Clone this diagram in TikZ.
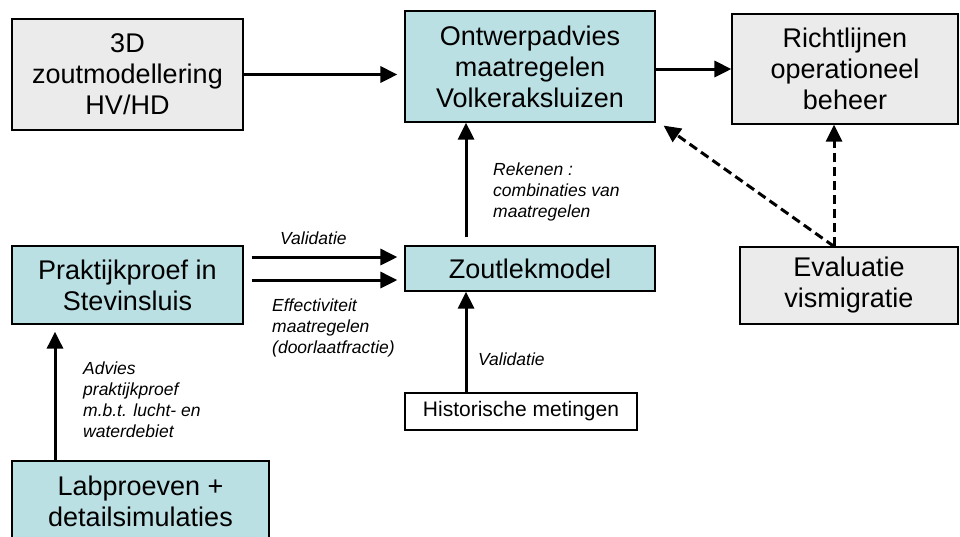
\documentclass[tikz,border=0pt]{standalone}
\usepackage{fontspec}
\setmainfont{Liberation Sans}
\usepackage{tikz}
\usetikzlibrary{positioning,calc,arrows.meta}

\definecolor{tealfill}{RGB}{186,224,227}
\definecolor{greyfill}{RGB}{235,235,235}

\begin{document}
\begin{tikzpicture}[x=1pt,y=-1pt,
			box/.style={rectangle, draw=black, line width=1.2pt, inner sep=0, align=center,
				font=\fontsize{27}{31}\selectfont},
			tealbox/.style={box, fill=tealfill},
			greybox/.style={box, fill=greyfill},
			plain/.style={inner sep=0, align=left, font=\fontsize{17.5}{21}\selectfont\itshape},
			arrow/.style={line width=3pt, -{Triangle[length=17pt,width=16pt]}},
			dasharrow/.style={arrow, dash pattern=on 9pt off 5pt}]

			\useasboundingbox (0,0) rectangle (960,536);

			\node[greybox, minimum width=231pt, minimum height=111pt] (zout) at (127.5,74.5) {3D\\zoutmodellering\\HV/HD};
			\node[tealbox, minimum width=250pt, minimum height=111pt] (ontw) at (530,66.5) {Ontwerpadvies\\maatregelen\\Volkeraksluizen};
			\node[greybox, minimum width=226pt, minimum height=110pt] (richt) at (845,69) {Richtlijnen\\operationeel\\beheer};
			\node[tealbox, minimum width=231pt, minimum height=78pt] (prak) at (127.5,285) {Praktijkproef in\\Stevinsluis};
			\node[tealbox, minimum width=250pt, minimum height=45pt] (lek) at (530,268.5) {Zoutlekmodel};
			\node[greybox, minimum width=218pt, minimum height=77pt] (eval) at (849,285.5) {Evaluatie\\vismigratie};
			\node[box, fill=white, minimum width=232pt, minimum height=37pt,
				font=\fontsize{21}{25}\selectfont] (hist) at (521,411.5) {Historische metingen};
			\node[tealbox, minimum width=257pt, minimum height=80pt] (lab) at (140.5,501) {Labproeven +\\detailsimulaties};

			% solid connectors
			\draw[arrow, shorten >=7pt] (zout.east) -- (zout.east -| ontw.west);
			\draw[arrow] (ontw.east |- richt.west) -- (richt.west);
			\draw[arrow, shorten <=8pt] (lek.north -| 466,0) -- (ontw.south -| 466,0);
			\draw[arrow] (hist.north -| 466,0) -- (lek.south -| 466,0);
			\draw[arrow, shorten <=8pt, shorten >=7pt] ([yshift=28pt]prak.east) -- ([yshift=28pt]prak.east -| lek.west);
			\draw[arrow, shorten <=8pt, shorten >=7pt] ([yshift=5pt]prak.east) -- ([yshift=5pt]prak.east -| lek.west);
			\draw[arrow, shorten >=7pt] (lab.north -| 55,0) -- (prak.south -| 55,0);

			% dashed connectors
			\coordinate (evtop) at ([xshift=-15pt]eval.north);
			\draw[dasharrow] (evtop) -- ([xshift=8pt,yshift=-3pt]ontw.south east);
			\draw[dasharrow] (evtop) -- (evtop |- richt.south);

			% labels
			\node[plain, anchor=west] (lval) at (280,238) {Validatie};
			\node[plain, anchor=west] (leff) at (272,328) {Effectiviteit\\maatregelen\\(doorlaatfractie)};
			\node[plain, anchor=west] (lrek) at (493,191.5) {Rekenen :\\combinaties van\\maatregelen};
			\node[plain, anchor=west] (lhis) at (478,359) {Validatie};
			\node[plain, anchor=west] (ladv) at (83,399.5) {Advies\\praktijkproef\\m.b.t. lucht- en\\waterdebiet};
		\end{tikzpicture}
\end{document}
